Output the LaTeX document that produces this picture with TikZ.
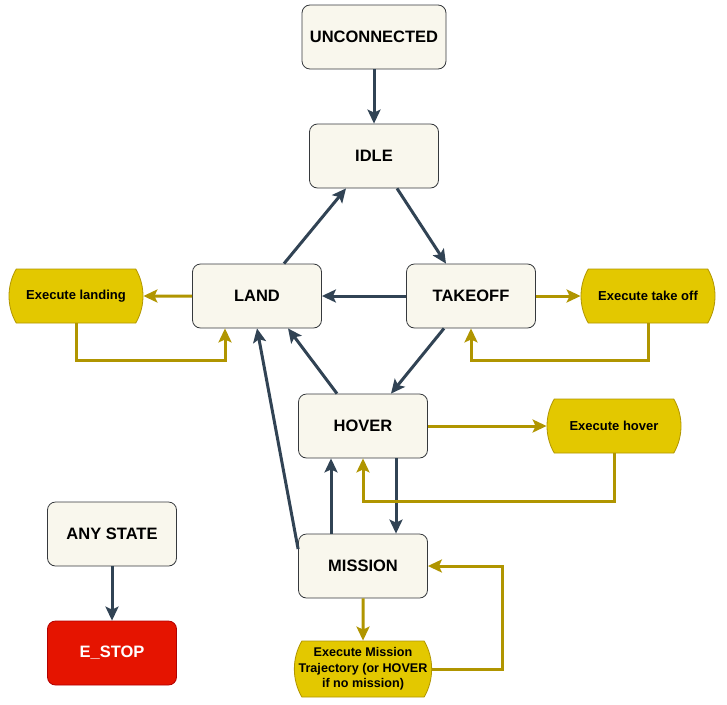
\documentclass[tikz,border=0pt]{standalone}
\usepackage{fontspec}
\setmainfont{Liberation Sans}
\usetikzlibrary{arrows.meta,shapes.misc}
\definecolor{statefill}{HTML}{F9F7ED}
\definecolor{stateline}{HTML}{36393D}
\definecolor{actfill}{HTML}{E3C800}
\definecolor{actline}{HTML}{B09500}
\definecolor{stopfill}{HTML}{E51400}
\definecolor{stopline}{HTML}{B20000}
\definecolor{flow}{HTML}{314354}
\tikzset{
  state/.style={draw=stateline,fill=statefill,rounded corners=8pt,line width=0.8pt,
    minimum width=129pt,minimum height=64pt,inner sep=2pt,
    font=\fontsize{16.5}{19}\selectfont\bfseries},
  action/.style={draw=actline,fill=actfill,line width=0.8pt,rounded rectangle,
    rounded rectangle arc length=60,minimum width=136pt,minimum height=54pt,inner sep=1pt,
    align=center,font=\fontsize{13}{16}\selectfont\bfseries},
  estop/.style={state,draw=stopline,fill=stopfill,text=white},
  go/.style={draw=flow,line width=3pt,-{Stealth[length=14pt,width=13pt,inset=3pt]}},
  run/.style={draw=actline,line width=3pt,-{Stealth[length=14pt,width=13pt,inset=3pt]}}
}
\begin{document}
\begin{tikzpicture}[x=1pt,y=-1pt]
  \useasboundingbox (0,0) rectangle (727,704);

  % states
  \node[state,minimum width=144pt] (unconnected) at (374,37) {UNCONNECTED};
  \node[state] (idle) at (374,156) {IDLE};
  \node[state] (land) at (257,296) {LAND};
  \node[state] (takeoff) at (471,296) {TAKEOFF};
  \node[state] (hover) at (363,426) {HOVER};
  \node[state] (mission) at (363,566) {MISSION};
  \node[state] (anystate) at (112,534) {ANY STATE};
  \node[estop] (estop) at (112,653) {E\_STOP};

  % actions
  \node[action] (exland) at (76,296) {Execute landing};
  \node[action] (extakeoff) at (648,296) {Execute take off};
  \node[action] (exhover) at (614,426) {Execute hover};
  \node[action,minimum height=56pt,minimum width=135pt,inner xsep=0pt,
    font=\fontsize{12.6}{15.5}\selectfont\bfseries] (exmission) at (363,669)
    {Execute Mission\\Trajectory (or HOVER\\if no mission)};

  % transitions
  \draw[go] (unconnected) -- (idle);
  \draw[go] ([xshift=27pt]land.north) -- ([xshift=-28pt]idle.south);
  \draw[go] ([xshift=23pt]idle.south) -- ([xshift=-25pt]takeoff.north);
  \draw[go] (takeoff) -- (land);
  \draw[go] ([xshift=-27pt]takeoff.south) -- ([xshift=28pt]hover.north);
  \draw[go] ([xshift=-26pt]hover.north) -- ([xshift=31pt]land.south);
  \draw[go] ([yshift=17pt]mission.west) -- (land.south);
  \draw[go] ([xshift=-32pt]mission.north) -- ([xshift=-32pt]hover.south);
  \draw[go] ([xshift=33pt]hover.south) -- ([xshift=33pt]mission.north);
  \draw[go] (anystate) -- (estop);

  % action calls and returns
  \draw[run] (land) -- (exland);
  \draw[run] (exland.south) -- ++(0,37) -| ([xshift=-32pt]land.south);
  \draw[run] (takeoff) -- (extakeoff);
  \draw[run] (extakeoff.south) -- ++(0,37) -| (takeoff.south);
  \draw[run] (hover) -- (exhover);
  \draw[run] (exhover.south) -- ++(0,48) -| (hover.south);
  \draw[run] (mission) -- (exmission);
  \draw[run] (exmission.east) -- ++(70,0) |- (mission.east);
\end{tikzpicture}
\end{document}
